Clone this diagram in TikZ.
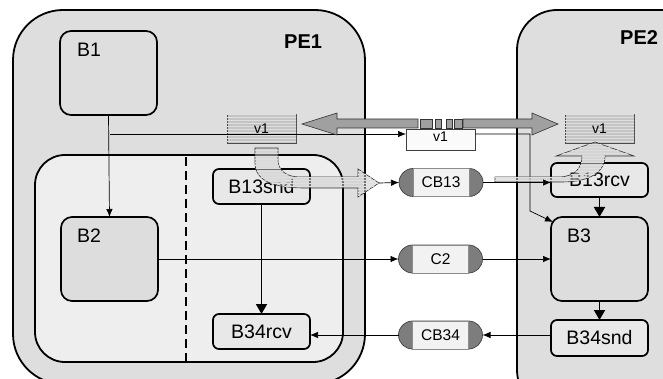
\documentclass[tikz,border=0pt]{standalone}
\usepackage{fontspec}
\setmainfont{Liberation Sans}
\usetikzlibrary{arrows.meta,shapes.misc,patterns,calc}
\definecolor{pegray}{RGB}{222,222,222}
\definecolor{innergray}{RGB}{238,238,238}
\definecolor{bgray}{RGB}{221,221,221}
\definecolor{sgray}{RGB}{232,232,232}
\definecolor{capgray}{RGB}{125,125,125}
\definecolor{capmid}{RGB}{242,242,242}
\definecolor{vgray}{RGB}{196,196,196}
\definecolor{stripecol}{RGB}{222,222,222}
\definecolor{arrgray}{RGB}{160,160,160}
\begin{document}
\begin{tikzpicture}[x=1pt,y=-1pt,
  every node/.style={inner sep=0pt, outer sep=0pt},
  pebox/.style={draw, line width=1.8pt, fill=pegray, rounded corners=#1, anchor=north west},
  bigbox/.style={draw, line width=1.7pt, fill=bgray, rounded corners=11pt, anchor=north west, minimum width=97pt, minimum height=84pt},
  smallbox/.style={draw, line width=1.7pt, fill=sgray, rounded corners=6pt, anchor=north west, minimum width=97pt, font=\fontsize{19.5}{22}\selectfont},
  blabel/.style={anchor=base west, font=\fontsize{19.5}{22}\selectfont},
  pelabel/.style={anchor=base east, font=\bfseries\fontsize{20}{24}\selectfont},
  vbox/.style={draw=black!70, line width=0.6pt, fill=vgray, anchor=north west, minimum width=69pt, minimum height=29pt},
  vtext/.style={font=\fontsize{14}{16}\selectfont},
  capsule/.style={rounded rectangle, draw=black!75, line width=0.7pt, fill=capgray, minimum width=84pt, minimum height=28pt},
  capmidbox/.style={rectangle, draw=black!45, line width=0.5pt, fill=capmid, minimum width=56pt, minimum height=28pt, font=\fontsize{15.5}{18}\selectfont},
  conn/.style={draw, line width=0.7pt, -{Latex[length=8pt,width=6.5pt]}},
  thickarr/.style={draw, line width=1.8pt, -{Triangle[length=10pt,width=11pt]}},
  hollow/.style={draw=black!80, line width=0.6pt, fill=gray!40, fill opacity=0.55},
  stripes/.style={pattern=horizontal lines, pattern color=stripecol}
]
\useasboundingbox (0,0) rectangle (663,379);
\clip (0,0) rectangle (663,379);

% processing elements
\node[pebox=50pt, minimum width=352pt, minimum height=374pt] (PE1) at (13,10) {};
\node[pebox=40pt, minimum width=200pt, minimum height=400pt] (PE2) at (517,10) {};
\node[pelabel] (PE1t) at (322,49) {PE1};
\node[pelabel] (PE2t) at (658,45) {PE2};

% inner region of PE1
\node[draw, line width=1.8pt, fill=innergray, rounded corners=30pt, anchor=north west,
      minimum width=308pt, minimum height=207pt] (IN) at (35,155) {};
\coordinate (d1) at (186,157);
\draw[line width=1.7pt, dash pattern=on 9pt off 5pt] (d1) -- (d1 |- IN.south);

% blocks
\node[bigbox, fill=pegray] (B1) at (60,31) {};
\node[blabel] (B1t) at ($(B1.north west)+(17,26)$) {B1};
\node[bigbox] (B2) at (61,217) {};
\node[blabel] (B2t) at ($(B2.north west)+(16,25)$) {B2};
\node[bigbox] (B3) at (551,217) {};
\node[blabel] (B3t) at ($(B3.north west)+(16,25)$) {B3};

\node[smallbox, minimum height=35pt] (B13snd) at (213,169) {B13snd};
\node[smallbox, minimum height=35pt] (B34rcv) at (213,314) {B34rcv};
\node[smallbox, minimum height=34pt] (B13rcv) at (551,163) {B13rcv};
\node[smallbox, minimum height=36pt] (B34snd) at (551,320) {B34snd};

% thick internal arrows
\draw[thickarr] (B13snd.south) -- (B34rcv.north);
\draw[thickarr] (B13rcv.south) -- (B3.north);
\draw[thickarr] (B3.south) -- (B34snd.north);

% v1 boxes
\node[vbox] (v1a) at (227,114) {};
\fill[stripes] (v1a.north west) rectangle (v1a.south east);
\node[vtext] (v1at) at (v1a.center) {v1};
\node[vbox] (v1c) at (565,114) {};
\fill[stripes] (v1c.north west) rectangle (v1c.south east);
\node[vtext] (v1ct) at (v1c.center) {v1};
\node[draw=black!75, line width=0.6pt, fill=white!96!gray, anchor=north west,
      minimum width=69pt, minimum height=21pt] (v1b) at (406,129) {};
\node[vtext] (v1bt) at (440.5,137) {v1};

% thin connectors B1 -> B2, B1 -> v1 channel -> B3
\coordinate (j1) at (110,134);
\draw[conn] (B1.south) -- (B2.north);
\draw[conn] (j1) -- (j1 -| v1b.west);
\coordinate (j2) at (530,211);
\draw[conn] (v1b.east |- j1) -| (j2) -- ($(B3.north west)+(2,5)$);

% big double arrow (bus)
\filldraw[fill=arrgray, draw=black!80, line width=0.6pt]
  (302,124) -- (337,113) -- (337,119) -- (418,119) -- (418,128) -- (337,128) -- (337,135) -- cycle;
\filldraw[fill=arrgray, draw=black!80, line width=0.6pt]
  (463,119) -- (532,119) -- (532,113) -- (558,124) -- (532,135) -- (532,128) -- (463,128) -- cycle;
\foreach \a/\b in {420/432, 435/441, 446/452, 454/462}
  \filldraw[fill=arrgray, draw=black!80, line width=0.6pt] (\a,119) rectangle (\b,128);

% capsules (channels)
\node[capsule] (CB13) at (441,182.5) {};
\node[capmidbox] (CB13t) at (CB13.center) {CB13};
\node[capsule] (C2) at (440.5,259) {};
\node[capmidbox] (C2t) at (C2.center) {C2};
\node[capsule] (CB34) at (440.5,335) {};
\node[capmidbox] (CB34t) at (CB34.center) {CB34};

% hollow transfer arrow in PE1
\path[hollow]
  (255,148) -- (255,163) .. controls (255,180) and (272,188) .. (305,188)
  -- (358,188) -- (358,197) -- (379,183) -- (358,169) -- (358,177) -- (300,177)
  .. controls (286,177) and (278,170) .. (278,160) -- (278,148) -- cycle;
\fill[stripes]
  (255,148) -- (255,163) .. controls (255,180) and (272,188) .. (305,188)
  -- (358,188) -- (358,197) -- (379,183) -- (358,169) -- (358,177) -- (300,177)
  .. controls (286,177) and (278,170) .. (278,160) -- (278,148) -- cycle;
\coordinate (h1) at (379,183);
\draw[conn] (h1) -- (CB13.west);

% hollow transfer arrow in PE2
\path[hollow]
  (495,177) -- (495,182) -- (562,182) .. controls (590,182) and (605,172) .. (605,156)
  -- (634,156) -- (595,142) -- (556,156) -- (582,156)
  .. controls (582,168) and (575,177) .. (558,177) -- cycle;
\fill[stripes]
  (495,177) -- (495,182) -- (562,182) .. controls (590,182) and (605,172) .. (605,156)
  -- (634,156) -- (595,142) -- (556,156) -- (582,156)
  .. controls (582,168) and (575,177) .. (558,177) -- cycle;

% channel connectors
\draw[conn] (CB13.east) -- (CB13.east -| B13rcv.west);
\draw[conn] (B2.east) -- (C2.west);
\draw[conn] (C2.east) -- (B3.west);
\draw[conn] (CB34.east -| B34snd.west) -- (CB34.east);
\draw[conn] (CB34.west) -- (CB34.west -| B34rcv.east);
\end{tikzpicture}
\end{document}
